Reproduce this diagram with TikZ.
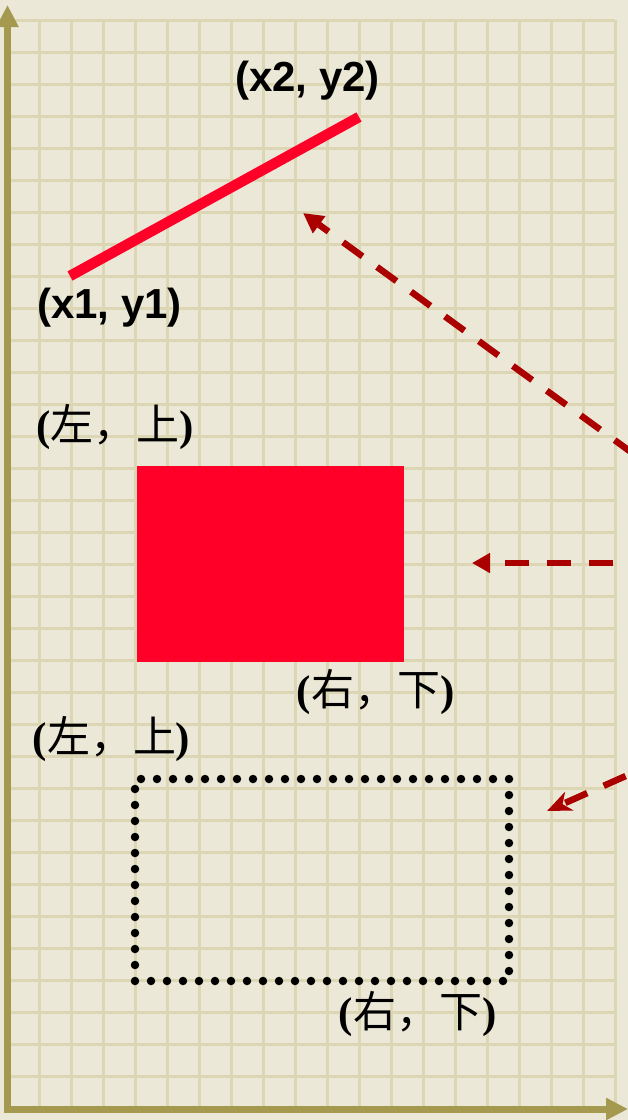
\documentclass[tikz,border=0pt]{standalone}
\usepackage{fontspec}
\setmainfont{Liberation Serif}
\newfontfamily\lsans{Liberation Sans}
\newfontfamily\cjk{Noto Sans CJK SC}
\usetikzlibrary{arrows.meta}
\definecolor{bgc}{RGB}{235,232,215}
\definecolor{gridc}{RGB}{221,214,180}
\definecolor{axisc}{RGB}{165,152,79}
\definecolor{redc}{RGB}{255,0,41}
\definecolor{darkred}{RGB}{170,0,0}
\newcommand{\cjkreg}[1]{{\cjk\mdseries #1}}
\tikzset{
  gridline/.style={gridc, line width=3pt},
  axisline/.style={axisc, line width=7pt, -{Triangle[length=22pt,width=21pt]}},
  coordlbl/.style={font=\lsans\bfseries\fontsize{42}{48}\selectfont, anchor=base, inner sep=0pt, text=black},
  cornerlbl/.style={font=\bfseries\fontsize{43}{50}\selectfont, anchor=base, inner sep=0pt, text=black},
  pointer/.style={darkred, line width=6.5pt, dash pattern=on 24pt off 18pt},
  filledbox/.style={fill=redc, draw=none, minimum width=267pt, minimum height=196pt, inner sep=0pt},
  dottedbox/.style={draw=black, line width=8.5pt, line cap=round, dash pattern=on 0pt off 16pt, minimum width=374pt, minimum height=202pt, inner sep=0pt},
}
\begin{document}
\begin{tikzpicture}[x=1pt,y=-1pt]
\useasboundingbox (0,0) rectangle (628,1120);
\fill[bgc] (0,0) rectangle (628,1120);
\begin{scope}
\clip (0,0) rectangle (628,1120);
% grid
\foreach \k in {0,...,18} { \draw[gridline] ({39+32*\k},20) -- ({39+32*\k},1106); }
\foreach \k in {0,...,33} { \draw[gridline] (7,{20+32*\k}) -- (615,{20+32*\k}); }
% axes
\coordinate (origin) at (7.5,1109);
\coordinate (ytip) at (7.5,5);
\coordinate (xtip) at (628,1109);
\coordinate (ybase) at (7.5,1112.5);
\coordinate (xbase) at (4,1109);
\draw[axisline] (ybase) -- (ytip);
\draw[axisline] (xbase) -- (xtip);
% red line
\coordinate (p1) at (70,276);
\coordinate (p2) at (359,117);
\draw[redc, line width=10.5pt] (p1) -- (p2);
\node[coordlbl] (lp2) at (307.5,91) {(x2, y2)};
\node[coordlbl] (lp1) at (109.5,318) {(x1, y1)};
% filled rectangle
\node[filledbox] (rect) at (270.5,564) {};
\node[cornerlbl] (tl1) at (115,440) {(\cjkreg{左，上})};
\node[cornerlbl] (br1) at (375.5,705) {(\cjkreg{右，下})};
% dotted rectangle
\node[dottedbox] (drect) at (322,880) {};
\node[cornerlbl] (tl2) at (111.5,752) {(\cjkreg{左，上})};
\node[cornerlbl] (br2) at (417.5,1027) {(\cjkreg{右，下})};
% pointers
\coordinate (a1s) at (668,479);
\coordinate (a1e) at (303,213);
\coordinate (a2s) at (613,563);
\coordinate (a2e) at (472,563);
\coordinate (a3s) at (664,759);
\coordinate (a3e) at (547,811);
\draw[pointer, -{Triangle[length=20pt,width=20pt]}] (a1s) -- (a1e);
\draw[pointer, -{Triangle[length=18pt,width=19pt]}] (a2s) -- (a2e);
\draw[pointer, -{Stealth[length=24pt,width=20pt,inset=7pt]}] (a3s) -- (a3e);
\end{scope}
\end{tikzpicture}
\end{document}
